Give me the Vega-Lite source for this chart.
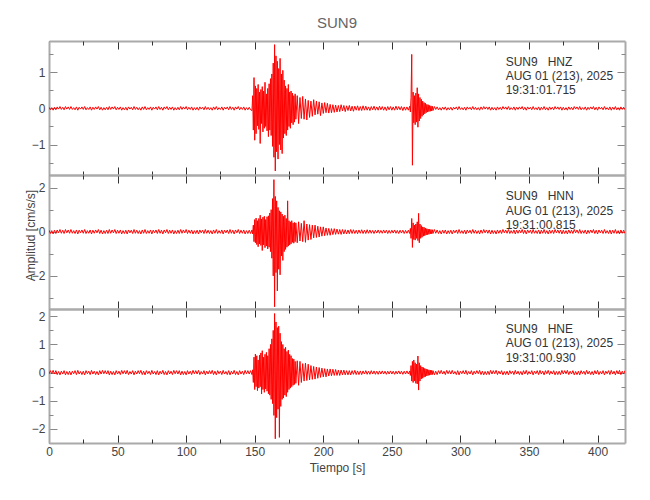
{
"$schema": "https://vega.github.io/schema/vega-lite/v6.json",
"background": "white",
"padding": {"left": 23, "top": 15, "right": 5, "bottom": 5},
"bounds": "flush",
"title": {"text": "SUN9", "font": "Liberation Sans", "fontSize": 15, "fontWeight": "normal", "color": "#666666", "anchor": "middle", "frame": "group", "baseline": "alphabetic", "offset": -2},
"config": {"view": {"stroke": null}, "axis": {"labelFont": "Liberation Sans", "labelFontSize": 12, "labelColor": "#444444", "titleFont": "Liberation Sans", "titleFontSize": 12, "titleColor": "#444444", "titleFontWeight": "normal", "labelFlush": false, "labelOverlap": false, "grid": false}},
"spacing": 0,
"vconcat": [
{
"width": 576, "height": 134,
"layer": [
{"data": {"name": "z"}, "mark": {"type": "line", "color": "#ff0000", "strokeWidth": 1, "clip": true},
 "encoding": {
  "x": {"field": "t", "type": "quantitative", "scale": {"domain": [0, 420], "nice": false, "zero": false}, "axis": {"orient": "bottom", "values": [0,50,100,150,200,250,300,350,400], "tickSize": -8, "labels": false, "title": null, "domainColor": "#aaaaaa", "domainWidth": 2, "tickColor": "#333333"}},
  "y": {"field": "v", "type": "quantitative", "scale": {"domain": [-1.84, 1.86], "nice": false, "zero": false}, "axis": {"orient": "left", "values": [-1,0,1], "tickSize": -8, "labelPadding": 12, "title": null, "domainColor": "#aaaaaa", "domainWidth": 2, "tickColor": "#888888"}}}},
{"data": {"values": [{"t": 0, "v": 0}]}, "mark": {"type": "point", "opacity": 0},
 "encoding": {
  "x": {"field": "t", "type": "quantitative", "axis": {"orient": "bottom", "values": [25,75,125,175,225,275,325,375], "tickSize": -4, "labels": false, "domain": false, "title": null, "tickColor": "#333333"}},
  "y": {"field": "v", "type": "quantitative", "axis": {"orient": "left", "values": [-1.5,-0.5,0.5,1.5], "tickSize": -4, "labels": false, "domain": false, "title": null, "tickColor": "#888888"}}}},
{"data": {"values": [{"t": 0, "v": 0}]}, "mark": {"type": "point", "opacity": 0},
 "encoding": {
  "x": {"field": "t", "type": "quantitative", "axis": {"orient": "top", "values": [0,50,100,150,200,250,300,350,400], "tickSize": -8, "labels": false, "title": null, "domainColor": "#aaaaaa", "domainWidth": 2, "tickColor": "#333333"}},
  "y": {"field": "v", "type": "quantitative", "axis": {"orient": "right", "values": [-1,0,1], "tickSize": -8, "labels": false, "title": null, "domainColor": "#aaaaaa", "domainWidth": 2, "tickColor": "#888888"}}}},
{"data": {"values": [{"t": 0, "v": 0}]}, "mark": {"type": "point", "opacity": 0},
 "encoding": {
  "x": {"field": "t", "type": "quantitative", "axis": {"orient": "top", "values": [25,75,125,175,225,275,325,375], "tickSize": -4, "labels": false, "domain": false, "title": null, "tickColor": "#333333"}},
  "y": {"field": "v", "type": "quantitative", "axis": {"orient": "right", "values": [-1.5,-0.5,0.5,1.5], "tickSize": -4, "labels": false, "domain": false, "title": null, "tickColor": "#888888"}}}},
{"data": {"values": [{}]}, "mark": {"type": "text", "text": ["SUN9\u00a0\u00a0\u00a0HNZ", "AUG 01 (213), 2025", "19:31:01.715"], "align": "left", "baseline": "top", "font": "Liberation Sans", "fontSize": 12, "lineHeight": 14.3, "color": "#333333"},
 "encoding": {"x": {"datum": 333, "type": "quantitative", "axis": null}, "y": {"datum": 1.43, "type": "quantitative", "axis": null}}}
],
"resolve": {"axis": {"x": "independent", "y": "independent"}}
},
{
"width": 576, "height": 134,
"layer": [
{"data": {"name": "n"}, "mark": {"type": "line", "color": "#ff0000", "strokeWidth": 1, "clip": true},
 "encoding": {
  "x": {"field": "t", "type": "quantitative", "scale": {"domain": [0, 420], "nice": false, "zero": false}, "axis": {"orient": "bottom", "values": [0,50,100,150,200,250,300,350,400], "tickSize": -8, "labels": false, "title": null, "domainColor": "#aaaaaa", "domainWidth": 2, "tickColor": "#333333"}},
  "y": {"field": "v", "type": "quantitative", "scale": {"domain": [-3.5, 2.57], "nice": false, "zero": false}, "axis": {"orient": "left", "values": [-2,0,2], "tickSize": -8, "labelPadding": 12, "title": "Amplitud [cm/s/s]", "titleX": -19, "titleY": 60, "titleAngle": 270, "titleBaseline": "middle", "titleAlign": "center", "domainColor": "#aaaaaa", "domainWidth": 2, "tickColor": "#888888"}}}},
{"data": {"values": [{"t": 0, "v": 0}]}, "mark": {"type": "point", "opacity": 0},
 "encoding": {
  "x": {"field": "t", "type": "quantitative", "axis": {"orient": "bottom", "values": [25,75,125,175,225,275,325,375], "tickSize": -4, "labels": false, "domain": false, "title": null, "tickColor": "#333333"}},
  "y": {"field": "v", "type": "quantitative", "axis": {"orient": "left", "values": [-3,-1,1], "tickSize": -4, "labels": false, "domain": false, "title": null, "tickColor": "#888888"}}}},
{"data": {"values": [{"t": 0, "v": 0}]}, "mark": {"type": "point", "opacity": 0},
 "encoding": {
  "x": {"field": "t", "type": "quantitative", "axis": {"orient": "top", "values": [0,50,100,150,200,250,300,350,400], "tickSize": -8, "labels": false, "title": null, "domainColor": "#aaaaaa", "domainWidth": 2, "tickColor": "#333333"}},
  "y": {"field": "v", "type": "quantitative", "axis": {"orient": "right", "values": [-2,0,2], "tickSize": -8, "labels": false, "title": null, "domainColor": "#aaaaaa", "domainWidth": 2, "tickColor": "#888888"}}}},
{"data": {"values": [{"t": 0, "v": 0}]}, "mark": {"type": "point", "opacity": 0},
 "encoding": {
  "x": {"field": "t", "type": "quantitative", "axis": {"orient": "top", "values": [25,75,125,175,225,275,325,375], "tickSize": -4, "labels": false, "domain": false, "title": null, "tickColor": "#333333"}},
  "y": {"field": "v", "type": "quantitative", "axis": {"orient": "right", "values": [-3,-1,1], "tickSize": -4, "labels": false, "domain": false, "title": null, "tickColor": "#888888"}}}},
{"data": {"values": [{}]}, "mark": {"type": "text", "text": ["SUN9\u00a0\u00a0\u00a0HNN", "AUG 01 (213), 2025", "19:31:00.815"], "align": "left", "baseline": "top", "font": "Liberation Sans", "fontSize": 12, "lineHeight": 14.3, "color": "#333333"},
 "encoding": {"x": {"datum": 333, "type": "quantitative", "axis": null}, "y": {"datum": 1.83, "type": "quantitative", "axis": null}}}
],
"resolve": {"axis": {"x": "independent", "y": "independent"}}
},
{
"width": 576, "height": 134,
"layer": [
{"data": {"name": "e"}, "mark": {"type": "line", "color": "#ff0000", "strokeWidth": 1, "clip": true},
 "encoding": {
  "x": {"field": "t", "type": "quantitative", "scale": {"domain": [0, 420], "nice": false, "zero": false}, "axis": {"orient": "bottom", "values": [0,50,100,150,200,250,300,350,400], "tickSize": -8, "labels": true, "labelPadding": 11, "labelBaseline": "top", "title": "Tiempo [s]", "titlePadding": 5, "domainColor": "#aaaaaa", "domainWidth": 2, "tickColor": "#333333"}},
  "y": {"field": "v", "type": "quantitative", "scale": {"domain": [-2.5, 2.26], "nice": false, "zero": false}, "axis": {"orient": "left", "values": [-2,-1,0,1,2], "tickSize": -8, "labelPadding": 12, "title": null, "domainColor": "#aaaaaa", "domainWidth": 2, "tickColor": "#888888"}}}},
{"data": {"values": [{"t": 0, "v": 0}]}, "mark": {"type": "point", "opacity": 0},
 "encoding": {
  "x": {"field": "t", "type": "quantitative", "axis": {"orient": "bottom", "values": [25,75,125,175,225,275,325,375], "tickSize": -4, "labels": false, "domain": false, "title": null, "tickColor": "#333333"}},
  "y": {"field": "v", "type": "quantitative", "axis": {"orient": "left", "values": [-1.5,-0.5,0.5,1.5], "tickSize": -4, "labels": false, "domain": false, "title": null, "tickColor": "#888888"}}}},
{"data": {"values": [{"t": 0, "v": 0}]}, "mark": {"type": "point", "opacity": 0},
 "encoding": {
  "x": {"field": "t", "type": "quantitative", "axis": {"orient": "top", "values": [0,50,100,150,200,250,300,350,400], "tickSize": -8, "labels": false, "title": null, "domainColor": "#aaaaaa", "domainWidth": 2, "tickColor": "#333333"}},
  "y": {"field": "v", "type": "quantitative", "axis": {"orient": "right", "values": [-2,-1,0,1,2], "tickSize": -8, "labels": false, "title": null, "domainColor": "#aaaaaa", "domainWidth": 2, "tickColor": "#888888"}}}},
{"data": {"values": [{"t": 0, "v": 0}]}, "mark": {"type": "point", "opacity": 0},
 "encoding": {
  "x": {"field": "t", "type": "quantitative", "axis": {"orient": "top", "values": [25,75,125,175,225,275,325,375], "tickSize": -4, "labels": false, "domain": false, "title": null, "tickColor": "#333333"}},
  "y": {"field": "v", "type": "quantitative", "axis": {"orient": "right", "values": [-1.5,-0.5,0.5,1.5], "tickSize": -4, "labels": false, "domain": false, "title": null, "tickColor": "#888888"}}}},
{"data": {"values": [{}]}, "mark": {"type": "text", "text": ["SUN9\u00a0\u00a0\u00a0HNE", "AUG 01 (213), 2025", "19:31:00.930"], "align": "left", "baseline": "top", "font": "Liberation Sans", "fontSize": 12, "lineHeight": 14.3, "color": "#333333"},
 "encoding": {"x": {"datum": 333, "type": "quantitative", "axis": null}, "y": {"datum": 1.72, "type": "quantitative", "axis": null}}}
],
"resolve": {"axis": {"x": "independent", "y": "independent"}}
}
],
"datasets": {
"z": [
{"t":0,"v":0.03},{"t":1,"v":-0.04},{"t":2,"v":0.02},{"t":3,"v":-0.05},{"t":4,"v":0.03},{"t":5,"v":-0.04},{"t":6,"v":0.04},{"t":7,"v":-0.02},{"t":8,"v":0.05},{"t":9,"v":-0.03},{"t":10,"v":0.03},{"t":11,"v":-0.04},{"t":12,"v":0.05},{"t":13,"v":-0.02},{"t":14,"v":0.04},{"t":15,"v":-0.03},{"t":16,"v":0.05},{"t":17,"v":-0.03},{"t":18,"v":0.02},{"t":19,"v":-0.04},{"t":20,"v":0.04},{"t":21,"v":-0.05},{"t":22,"v":0.03},{"t":23,"v":-0.02},{"t":24,"v":0.04},{"t":25,"v":-0.03},{"t":26,"v":0.05},{"t":27,"v":-0.04},{"t":28,"v":0.02},{"t":29,"v":-0.03},{"t":30,"v":0.04},{"t":31,"v":-0.05},{"t":32,"v":0.03},{"t":33,"v":-0.03},{"t":34,"v":0.04},{"t":35,"v":-0.02},{"t":36,"v":0.05},{"t":37,"v":-0.04},{"t":38,"v":0.03},{"t":39,"v":-0.05},{"t":40,"v":0.02},{"t":41,"v":-0.04},{"t":42,"v":0.03},{"t":43,"v":-0.04},{"t":44,"v":0.05},{"t":45,"v":-0.03},{"t":46,"v":0.04},{"t":47,"v":-0.02},{"t":48,"v":0.05},{"t":49,"v":-0.04},{"t":50,"v":0.03},{"t":51,"v":-0.03},{"t":52,"v":0.04},{"t":53,"v":-0.05},{"t":54,"v":0.02},{"t":55,"v":-0.04},{"t":56,"v":0.03},{"t":57,"v":-0.05},{"t":58,"v":0.04},{"t":59,"v":-0.02},{"t":60,"v":0.03},{"t":61,"v":-0.04},{"t":62,"v":0.05},{"t":63,"v":-0.03},{"t":64,"v":0.03},{"t":65,"v":-0.04},{"t":66,"v":0.02},{"t":67,"v":-0.05},{"t":68,"v":0.04},{"t":69,"v":-0.03},{"t":70,"v":0.05},{"t":71,"v":-0.04},{"t":72,"v":0.02},{"t":73,"v":-0.03},{"t":74,"v":0.04},{"t":75,"v":-0.05},{"t":76,"v":0.03},{"t":77,"v":-0.02},{"t":78,"v":0.04},{"t":79,"v":-0.04},{"t":80,"v":0.05},{"t":81,"v":-0.03},{"t":82,"v":0.03},{"t":83,"v":-0.05},{"t":84,"v":0.04},{"t":85,"v":-0.02},{"t":86,"v":0.05},{"t":87,"v":-0.04},{"t":88,"v":0.03},{"t":89,"v":-0.03},{"t":90,"v":0.04},{"t":91,"v":-0.05},{"t":92,"v":0.02},{"t":93,"v":-0.04},{"t":94,"v":0.03},{"t":95,"v":-0.04},{"t":96,"v":0.05},{"t":97,"v":-0.03},{"t":98,"v":0.04},{"t":99,"v":-0.02},{"t":100,"v":0.05},{"t":101,"v":-0.04},{"t":102,"v":0.03},{"t":103,"v":-0.03},{"t":104,"v":0.04},{"t":105,"v":-0.05},{"t":106,"v":0.02},{"t":107,"v":-0.04},{"t":108,"v":0.03},{"t":109,"v":-0.05},{"t":110,"v":0.04},{"t":111,"v":-0.02},{"t":112,"v":0.03},{"t":113,"v":-0.04},{"t":114,"v":0.05},{"t":115,"v":-0.03},{"t":116,"v":0.03},{"t":117,"v":-0.04},{"t":118,"v":0.02},{"t":119,"v":-0.05},{"t":120,"v":0.04},{"t":121,"v":-0.03},{"t":122,"v":0.05},{"t":123,"v":-0.04},{"t":124,"v":0.02},{"t":125,"v":-0.03},{"t":126,"v":0.04},{"t":127,"v":-0.05},{"t":128,"v":0.03},{"t":129,"v":-0.02},{"t":130,"v":0.04},{"t":131,"v":-0.04},{"t":132,"v":0.05},{"t":133,"v":-0.03},{"t":134,"v":0.03},{"t":135,"v":-0.05},{"t":136,"v":0.04},{"t":137,"v":-0.02},{"t":138,"v":0.05},{"t":139,"v":-0.04},{"t":140,"v":0.03},{"t":141,"v":-0.03},{"t":142,"v":0.04},{"t":143,"v":-0.05},{"t":144,"v":0.02},{"t":145,"v":-0.04},{"t":146,"v":0.03},{"t":147,"v":-0.04},
{"t":148,"v":-0.06},{"t":148.5,"v":0.35},{"t":149,"v":-0.6},{"t":149.5,"v":0.85},{"t":150,"v":-0.88},{"t":150.5,"v":0.62},{"t":151,"v":-0.7},{"t":151.5,"v":0.55},{"t":152,"v":-0.48},{"t":152.5,"v":0.66},{"t":153,"v":-0.58},{"t":153.5,"v":0.45},{"t":154,"v":-0.97},{"t":154.5,"v":0.52},{"t":155,"v":-0.42},{"t":155.5,"v":0.6},{"t":156,"v":-0.65},{"t":156.5,"v":0.48},{"t":157,"v":-0.55},{"t":157.5,"v":0.72},{"t":158,"v":-0.5},{"t":158.5,"v":0.4},{"t":159,"v":-0.62},{"t":159.5,"v":0.55},{"t":160,"v":-0.78},{"t":160.5,"v":0.68},{"t":161,"v":-0.6},{"t":161.5,"v":0.82},{"t":162,"v":-0.75},{"t":162.5,"v":0.95},{"t":163,"v":-1.05},{"t":163.5,"v":1.25},{"t":164,"v":-1.35},{"t":164.5,"v":1.76},{"t":165,"v":-1.73},{"t":165.5,"v":1.45},{"t":166,"v":-1.2},{"t":166.5,"v":1.3},{"t":167,"v":-1.4},{"t":167.5,"v":1.1},{"t":168,"v":-1.0},{"t":168.5,"v":1.38},{"t":169,"v":-1.15},{"t":169.5,"v":0.95},{"t":170,"v":-1.25},{"t":170.5,"v":1.05},{"t":171,"v":-0.82},{"t":171.5,"v":0.78},{"t":172,"v":-0.7},{"t":172.5,"v":0.62},{"t":173,"v":-0.75},{"t":173.5,"v":0.55},{"t":174,"v":-0.6},{"t":174.5,"v":0.66},{"t":175,"v":-0.5},{"t":175.5,"v":0.45},{"t":176,"v":-0.55},{"t":176.5,"v":0.48},{"t":177,"v":-0.4},{"t":177.5,"v":0.42},{"t":178,"v":-0.45},{"t":178.5,"v":0.35},{"t":179,"v":-0.38},{"t":179.5,"v":0.4},{"t":180,"v":-0.3},
{"t":181,"v":0.35},{"t":182,"v":-0.42},{"t":183,"v":0.3},{"t":184,"v":-0.28},{"t":185,"v":0.33},{"t":186,"v":-0.3},{"t":187,"v":0.26},{"t":188,"v":-0.32},{"t":189,"v":0.22},{"t":190,"v":-0.25},{"t":191,"v":0.2},{"t":192,"v":-0.22},{"t":193,"v":0.24},{"t":194,"v":-0.18},{"t":195,"v":0.2},{"t":196,"v":-0.16},{"t":197,"v":0.18},{"t":198,"v":-0.2},{"t":199,"v":0.15},{"t":200,"v":-0.14},{"t":201,"v":0.16},{"t":202,"v":-0.12},{"t":203,"v":0.14},{"t":204,"v":-0.13},{"t":205,"v":0.11},{"t":206,"v":-0.12},{"t":207,"v":0.1},{"t":208,"v":-0.11},{"t":209,"v":0.09},{"t":210,"v":-0.1},{"t":211,"v":0.08},{"t":212,"v":-0.09},{"t":213,"v":0.1},{"t":214,"v":-0.07},{"t":215,"v":0.08},{"t":216,"v":-0.09},{"t":217,"v":0.07},{"t":218,"v":-0.06},{"t":219,"v":0.08},{"t":220,"v":-0.07},{"t":221,"v":0.06},{"t":222,"v":-0.08},{"t":223,"v":0.06},{"t":224,"v":-0.05},{"t":225,"v":0.07},{"t":226,"v":-0.06},{"t":227,"v":0.05},{"t":228,"v":-0.06},{"t":229,"v":0.07},{"t":230,"v":-0.05},{"t":231,"v":0.06},{"t":232,"v":-0.05},{"t":233,"v":0.04},{"t":234,"v":-0.06},{"t":235,"v":0.05},{"t":236,"v":-0.04},{"t":237,"v":0.06},{"t":238,"v":-0.05},{"t":239,"v":0.04},{"t":240,"v":-0.05},{"t":241,"v":0.06},{"t":242,"v":-0.04},{"t":243,"v":0.05},{"t":244,"v":-0.05},{"t":245,"v":0.04},{"t":246,"v":-0.06},{"t":247,"v":0.05},{"t":248,"v":-0.04},{"t":249,"v":0.05},{"t":250,"v":-0.05},{"t":251,"v":0.04},{"t":252,"v":-0.05},{"t":253,"v":0.06},{"t":254,"v":-0.04},{"t":255,"v":0.05},{"t":256,"v":-0.04},{"t":257,"v":0.05},{"t":258,"v":-0.06},{"t":259,"v":0.04},{"t":260,"v":-0.05},{"t":261,"v":0.04},{"t":262,"v":-0.05},
{"t":263,"v":0.06},{"t":263.5,"v":-0.1},{"t":264,"v":0.3},{"t":264.5,"v":1.49},{"t":265,"v":-1.57},{"t":265.5,"v":0.45},{"t":266,"v":-0.4},{"t":266.5,"v":0.35},{"t":267,"v":-0.45},{"t":267.5,"v":0.42},{"t":268,"v":-0.38},{"t":268.5,"v":0.57},{"t":269,"v":-0.52},{"t":269.5,"v":0.4},{"t":270,"v":-0.35},{"t":270.5,"v":0.3},{"t":271,"v":-0.28},{"t":271.5,"v":0.25},{"t":272,"v":-0.22},{"t":272.5,"v":0.2},{"t":273,"v":-0.18},{"t":273.5,"v":0.16},{"t":274,"v":-0.15},{"t":274.5,"v":0.14},{"t":275,"v":-0.12},{"t":275.5,"v":0.11},{"t":276,"v":-0.1},{"t":276.5,"v":0.1},{"t":277,"v":-0.09},{"t":277.5,"v":0.08},{"t":278,"v":-0.08},{"t":278.5,"v":0.07},{"t":279,"v":-0.07},{"t":279.5,"v":0.06},{"t":280,"v":-0.06},
{"t":281,"v":0.05},{"t":282,"v":-0.03},{"t":283,"v":0.04},{"t":284,"v":-0.04},{"t":285,"v":0.02},{"t":286,"v":-0.05},{"t":287,"v":0.03},{"t":288,"v":-0.03},{"t":289,"v":0.04},{"t":290,"v":-0.05},{"t":291,"v":0.02},{"t":292,"v":-0.04},{"t":293,"v":0.03},{"t":294,"v":-0.05},{"t":295,"v":0.03},{"t":296,"v":-0.02},{"t":297,"v":0.04},{"t":298,"v":-0.04},{"t":299,"v":0.05},{"t":300,"v":-0.03},{"t":301,"v":0.02},{"t":302,"v":-0.04},{"t":303,"v":0.03},{"t":304,"v":-0.05},{"t":305,"v":0.04},{"t":306,"v":-0.02},{"t":307,"v":0.03},{"t":308,"v":-0.04},{"t":309,"v":0.05},{"t":310,"v":-0.03},{"t":311,"v":0.03},{"t":312,"v":-0.04},{"t":313,"v":0.02},{"t":314,"v":-0.05},{"t":315,"v":0.04},{"t":316,"v":-0.03},{"t":317,"v":0.05},{"t":318,"v":-0.02},{"t":319,"v":0.04},{"t":320,"v":-0.03},{"t":321,"v":0.04},{"t":322,"v":-0.05},{"t":323,"v":0.03},{"t":324,"v":-0.04},{"t":325,"v":0.02},{"t":326,"v":-0.05},{"t":327,"v":0.04},{"t":328,"v":-0.03},{"t":329,"v":0.03},{"t":330,"v":-0.04},{"t":331,"v":0.05},{"t":332,"v":-0.02},{"t":333,"v":0.04},{"t":334,"v":-0.03},{"t":335,"v":0.05},{"t":336,"v":-0.04},{"t":337,"v":0.02},{"t":338,"v":-0.03},{"t":339,"v":0.04},{"t":340,"v":-0.05},{"t":341,"v":0.03},{"t":342,"v":-0.03},{"t":343,"v":0.04},{"t":344,"v":-0.02},{"t":345,"v":0.05},{"t":346,"v":-0.04},{"t":347,"v":0.03},{"t":348,"v":-0.05},{"t":349,"v":0.04},{"t":350,"v":-0.02},{"t":351,"v":0.03},{"t":352,"v":-0.04},{"t":353,"v":0.05},{"t":354,"v":-0.03},{"t":355,"v":0.02},{"t":356,"v":-0.04},{"t":357,"v":0.04},{"t":358,"v":-0.05},{"t":359,"v":0.03},{"t":360,"v":-0.03},{"t":361,"v":0.05},{"t":362,"v":-0.04},{"t":363,"v":0.02},{"t":364,"v":-0.05},{"t":365,"v":0.04},{"t":366,"v":-0.03},{"t":367,"v":0.03},{"t":368,"v":-0.04},{"t":369,"v":0.05},{"t":370,"v":-0.02},{"t":371,"v":0.04},{"t":372,"v":-0.03},{"t":373,"v":0.04},{"t":374,"v":-0.05},{"t":375,"v":0.03},{"t":376,"v":-0.04},{"t":377,"v":0.02},{"t":378,"v":-0.05},{"t":379,"v":0.04},{"t":380,"v":-0.03},{"t":381,"v":0.03},{"t":382,"v":-0.04},{"t":383,"v":0.05},{"t":384,"v":-0.02},{"t":385,"v":0.04},{"t":386,"v":-0.03},{"t":387,"v":0.05},{"t":388,"v":-0.04},{"t":389,"v":0.02},{"t":390,"v":-0.03},{"t":391,"v":0.04},{"t":392,"v":-0.05},{"t":393,"v":0.03},{"t":394,"v":-0.03},{"t":395,"v":0.04},{"t":396,"v":-0.02},{"t":397,"v":0.05},{"t":398,"v":-0.04},{"t":399,"v":0.03},{"t":400,"v":-0.05},{"t":401,"v":0.04},{"t":402,"v":-0.02},{"t":403,"v":0.03},{"t":404,"v":-0.04},{"t":405,"v":0.05},{"t":406,"v":-0.03},{"t":407,"v":0.02},{"t":408,"v":-0.04},{"t":409,"v":0.04},{"t":410,"v":-0.05},{"t":411,"v":0.03},{"t":412,"v":-0.03},{"t":413,"v":0.05},{"t":414,"v":-0.04},{"t":415,"v":0.02},{"t":416,"v":-0.05},{"t":417,"v":0.04},{"t":418,"v":-0.03},{"t":419,"v":0.03},{"t":420,"v":-0.04}
],
"n": [
{"t":0,"v":0.07},{"t":1,"v":-0.08},{"t":2,"v":0.05},{"t":3,"v":-0.1},{"t":4,"v":0.07},{"t":5,"v":-0.08},{"t":6,"v":0.08},{"t":7,"v":-0.05},{"t":8,"v":0.1},{"t":9,"v":-0.07},{"t":10,"v":0.07},{"t":11,"v":-0.08},{"t":12,"v":0.1},{"t":13,"v":-0.05},{"t":14,"v":0.08},{"t":15,"v":-0.07},{"t":16,"v":0.1},{"t":17,"v":-0.07},{"t":18,"v":0.05},{"t":19,"v":-0.08},{"t":20,"v":0.08},{"t":21,"v":-0.1},{"t":22,"v":0.07},{"t":23,"v":-0.05},{"t":24,"v":0.08},{"t":25,"v":-0.07},{"t":26,"v":0.1},{"t":27,"v":-0.08},{"t":28,"v":0.05},{"t":29,"v":-0.07},{"t":30,"v":0.08},{"t":31,"v":-0.1},{"t":32,"v":0.07},{"t":33,"v":-0.07},{"t":34,"v":0.08},{"t":35,"v":-0.05},{"t":36,"v":0.1},{"t":37,"v":-0.08},{"t":38,"v":0.07},{"t":39,"v":-0.1},{"t":40,"v":0.05},{"t":41,"v":-0.08},{"t":42,"v":0.07},{"t":43,"v":-0.08},{"t":44,"v":0.1},{"t":45,"v":-0.07},{"t":46,"v":0.08},{"t":47,"v":-0.05},{"t":48,"v":0.1},{"t":49,"v":-0.08},{"t":50,"v":0.07},{"t":51,"v":-0.07},{"t":52,"v":0.08},{"t":53,"v":-0.1},{"t":54,"v":0.05},{"t":55,"v":-0.08},{"t":56,"v":0.07},{"t":57,"v":-0.1},{"t":58,"v":0.08},{"t":59,"v":-0.05},{"t":60,"v":0.07},{"t":61,"v":-0.08},{"t":62,"v":0.1},{"t":63,"v":-0.07},{"t":64,"v":0.07},{"t":65,"v":-0.08},{"t":66,"v":0.05},{"t":67,"v":-0.1},{"t":68,"v":0.08},{"t":69,"v":-0.07},{"t":70,"v":0.1},{"t":71,"v":-0.08},{"t":72,"v":0.05},{"t":73,"v":-0.07},{"t":74,"v":0.08},{"t":75,"v":-0.1},{"t":76,"v":0.07},{"t":77,"v":-0.05},{"t":78,"v":0.08},{"t":79,"v":-0.08},{"t":80,"v":0.1},{"t":81,"v":-0.07},{"t":82,"v":0.07},{"t":83,"v":-0.1},{"t":84,"v":0.08},{"t":85,"v":-0.05},{"t":86,"v":0.1},{"t":87,"v":-0.08},{"t":88,"v":0.07},{"t":89,"v":-0.07},{"t":90,"v":0.08},{"t":91,"v":-0.1},{"t":92,"v":0.05},{"t":93,"v":-0.08},{"t":94,"v":0.07},{"t":95,"v":-0.08},{"t":96,"v":0.1},{"t":97,"v":-0.07},{"t":98,"v":0.08},{"t":99,"v":-0.05},{"t":100,"v":0.1},{"t":101,"v":-0.08},{"t":102,"v":0.07},{"t":103,"v":-0.07},{"t":104,"v":0.08},{"t":105,"v":-0.1},{"t":106,"v":0.05},{"t":107,"v":-0.08},{"t":108,"v":0.07},{"t":109,"v":-0.1},{"t":110,"v":0.08},{"t":111,"v":-0.05},{"t":112,"v":0.07},{"t":113,"v":-0.08},{"t":114,"v":0.1},{"t":115,"v":-0.07},{"t":116,"v":0.07},{"t":117,"v":-0.08},{"t":118,"v":0.05},{"t":119,"v":-0.1},{"t":120,"v":0.08},{"t":121,"v":-0.07},{"t":122,"v":0.1},{"t":123,"v":-0.08},{"t":124,"v":0.05},{"t":125,"v":-0.07},{"t":126,"v":0.08},{"t":127,"v":-0.1},{"t":128,"v":0.07},{"t":129,"v":-0.05},{"t":130,"v":0.08},{"t":131,"v":-0.08},{"t":132,"v":0.1},{"t":133,"v":-0.07},{"t":134,"v":0.07},{"t":135,"v":-0.1},{"t":136,"v":0.08},{"t":137,"v":-0.05},{"t":138,"v":0.1},{"t":139,"v":-0.08},{"t":140,"v":0.07},{"t":141,"v":-0.07},{"t":142,"v":0.08},{"t":143,"v":-0.1},{"t":144,"v":0.05},{"t":145,"v":-0.08},{"t":146,"v":0.07},{"t":147,"v":-0.08},
{"t":148,"v":0.08},{"t":148.5,"v":-0.1},{"t":149,"v":0.3},{"t":149.5,"v":-0.45},{"t":150,"v":0.55},{"t":150.5,"v":-0.5},{"t":151,"v":0.62},{"t":151.5,"v":-0.58},{"t":152,"v":0.5},{"t":152.5,"v":-0.68},{"t":153,"v":0.6},{"t":153.5,"v":-0.55},{"t":154,"v":0.75},{"t":154.5,"v":-0.62},{"t":155,"v":0.58},{"t":155.5,"v":-0.85},{"t":156,"v":0.66},{"t":156.5,"v":-0.6},{"t":157,"v":0.7},{"t":157.5,"v":-0.72},{"t":158,"v":0.55},{"t":158.5,"v":-0.65},{"t":159,"v":0.68},{"t":159.5,"v":-0.78},{"t":160,"v":0.72},{"t":160.5,"v":-0.7},{"t":161,"v":0.85},{"t":161.5,"v":-0.9},{"t":162,"v":1.0},{"t":162.5,"v":-1.2},{"t":163,"v":1.5},{"t":163.5,"v":-2.0},{"t":164,"v":2.36},{"t":164.5,"v":-3.4},{"t":165,"v":1.6},{"t":165.5,"v":-1.85},{"t":166,"v":1.4},{"t":166.5,"v":-2.68},{"t":167,"v":1.1},{"t":167.5,"v":-1.7},{"t":168,"v":0.95},{"t":168.5,"v":-1.95},{"t":169,"v":0.9},{"t":169.5,"v":-1.1},{"t":170,"v":0.8},{"t":170.5,"v":-1.3},{"t":171,"v":0.7},{"t":171.5,"v":-0.9},{"t":172,"v":0.75},{"t":172.5,"v":-0.8},{"t":173,"v":0.6},{"t":173.5,"v":-0.7},{"t":174,"v":1.4},{"t":174.5,"v":-0.65},{"t":175,"v":0.5},{"t":175.5,"v":-0.6},{"t":176,"v":0.45},{"t":176.5,"v":-0.55},{"t":177,"v":0.5},{"t":177.5,"v":-0.48},{"t":178,"v":0.4},{"t":178.5,"v":-0.52},{"t":179,"v":0.42},{"t":179.5,"v":-0.45},{"t":180,"v":0.4},
{"t":181,"v":-0.5},{"t":182,"v":0.45},{"t":183,"v":-0.42},{"t":184,"v":0.38},{"t":185,"v":-0.45},{"t":186,"v":0.5},{"t":187,"v":-0.48},{"t":188,"v":0.35},{"t":189,"v":-0.38},{"t":190,"v":0.32},{"t":191,"v":-0.35},{"t":192,"v":0.3},{"t":193,"v":-0.28},{"t":194,"v":0.3},{"t":195,"v":-0.26},{"t":196,"v":0.25},{"t":197,"v":-0.24},{"t":198,"v":0.22},{"t":199,"v":-0.2},{"t":200,"v":0.22},{"t":201,"v":-0.18},{"t":202,"v":0.17},{"t":203,"v":-0.16},{"t":204,"v":0.15},{"t":205,"v":-0.16},{"t":206,"v":0.14},{"t":207,"v":-0.13},{"t":208,"v":0.14},{"t":209,"v":-0.12},{"t":210,"v":0.12},{"t":211,"v":-0.11},{"t":212,"v":0.1},{"t":213,"v":-0.12},{"t":214,"v":0.1},{"t":215,"v":-0.1},{"t":216,"v":0.09},{"t":217,"v":-0.1},{"t":218,"v":0.08},{"t":219,"v":-0.09},{"t":220,"v":0.1},{"t":221,"v":-0.08},{"t":222,"v":0.09},{"t":223,"v":-0.08},{"t":224,"v":0.07},{"t":225,"v":-0.09},{"t":226,"v":0.08},{"t":227,"v":-0.07},{"t":228,"v":0.09},{"t":229,"v":-0.08},{"t":230,"v":0.07},{"t":231,"v":-0.08},{"t":232,"v":0.09},{"t":233,"v":-0.07},{"t":234,"v":0.08},{"t":235,"v":-0.07},{"t":236,"v":0.06},{"t":237,"v":-0.08},{"t":238,"v":0.07},{"t":239,"v":-0.06},{"t":240,"v":0.08},{"t":241,"v":-0.07},{"t":242,"v":0.06},{"t":243,"v":-0.07},{"t":244,"v":0.08},{"t":245,"v":-0.06},{"t":246,"v":0.07},{"t":247,"v":-0.08},{"t":248,"v":0.06},{"t":249,"v":-0.07},{"t":250,"v":0.07},{"t":251,"v":-0.06},{"t":252,"v":0.08},{"t":253,"v":-0.07},{"t":254,"v":0.06},{"t":255,"v":-0.08},{"t":256,"v":0.07},{"t":257,"v":-0.06},{"t":258,"v":0.07},{"t":259,"v":-0.08},{"t":260,"v":0.06},{"t":261,"v":-0.07},{"t":262,"v":0.07},
{"t":263,"v":-0.08},{"t":263.5,"v":0.15},{"t":264,"v":-0.3},{"t":264.5,"v":0.6},{"t":265,"v":-0.71},{"t":265.5,"v":0.4},{"t":266,"v":-0.35},{"t":266.5,"v":0.3},{"t":267,"v":-0.38},{"t":267.5,"v":0.35},{"t":268,"v":-0.3},{"t":268.5,"v":0.45},{"t":269,"v":-0.4},{"t":269.5,"v":0.83},{"t":270,"v":-0.5},{"t":270.5,"v":0.35},{"t":271,"v":-0.3},{"t":271.5,"v":0.28},{"t":272,"v":-0.25},{"t":272.5,"v":0.22},{"t":273,"v":-0.2},{"t":273.5,"v":0.2},{"t":274,"v":-0.18},{"t":274.5,"v":0.16},{"t":275,"v":-0.15},{"t":275.5,"v":0.14},{"t":276,"v":-0.13},{"t":276.5,"v":0.12},{"t":277,"v":-0.12},{"t":277.5,"v":0.11},{"t":278,"v":-0.1},{"t":278.5,"v":0.1},{"t":279,"v":-0.09},{"t":279.5,"v":0.09},{"t":280,"v":-0.08},
{"t":281,"v":0.1},{"t":282,"v":-0.07},{"t":283,"v":0.08},{"t":284,"v":-0.08},{"t":285,"v":0.05},{"t":286,"v":-0.1},{"t":287,"v":0.07},{"t":288,"v":-0.07},{"t":289,"v":0.08},{"t":290,"v":-0.1},{"t":291,"v":0.05},{"t":292,"v":-0.08},{"t":293,"v":0.07},{"t":294,"v":-0.1},{"t":295,"v":0.07},{"t":296,"v":-0.05},{"t":297,"v":0.08},{"t":298,"v":-0.08},{"t":299,"v":0.1},{"t":300,"v":-0.07},{"t":301,"v":0.05},{"t":302,"v":-0.08},{"t":303,"v":0.07},{"t":304,"v":-0.1},{"t":305,"v":0.08},{"t":306,"v":-0.05},{"t":307,"v":0.07},{"t":308,"v":-0.08},{"t":309,"v":0.1},{"t":310,"v":-0.07},{"t":311,"v":0.07},{"t":312,"v":-0.08},{"t":313,"v":0.05},{"t":314,"v":-0.1},{"t":315,"v":0.08},{"t":316,"v":-0.07},{"t":317,"v":0.1},{"t":318,"v":-0.05},{"t":319,"v":0.08},{"t":320,"v":-0.07},{"t":321,"v":0.08},{"t":322,"v":-0.1},{"t":323,"v":0.07},{"t":324,"v":-0.08},{"t":325,"v":0.05},{"t":326,"v":-0.1},{"t":327,"v":0.08},{"t":328,"v":-0.07},{"t":329,"v":0.07},{"t":330,"v":-0.08},{"t":331,"v":0.1},{"t":332,"v":-0.05},{"t":333,"v":0.08},{"t":334,"v":-0.07},{"t":335,"v":0.1},{"t":336,"v":-0.08},{"t":337,"v":0.05},{"t":338,"v":-0.07},{"t":339,"v":0.08},{"t":340,"v":-0.1},{"t":341,"v":0.07},{"t":342,"v":-0.07},{"t":343,"v":0.08},{"t":344,"v":-0.05},{"t":345,"v":0.1},{"t":346,"v":-0.08},{"t":347,"v":0.07},{"t":348,"v":-0.1},{"t":349,"v":0.08},{"t":350,"v":-0.05},{"t":351,"v":0.07},{"t":352,"v":-0.08},{"t":353,"v":0.1},{"t":354,"v":-0.07},{"t":355,"v":0.05},{"t":356,"v":-0.08},{"t":357,"v":0.08},{"t":358,"v":-0.1},{"t":359,"v":0.07},{"t":360,"v":-0.07},{"t":361,"v":0.1},{"t":362,"v":-0.08},{"t":363,"v":0.05},{"t":364,"v":-0.1},{"t":365,"v":0.08},{"t":366,"v":-0.07},{"t":367,"v":0.07},{"t":368,"v":-0.08},{"t":369,"v":0.1},{"t":370,"v":-0.05},{"t":371,"v":0.08},{"t":372,"v":-0.07},{"t":373,"v":0.08},{"t":374,"v":-0.1},{"t":375,"v":0.07},{"t":376,"v":-0.08},{"t":377,"v":0.05},{"t":378,"v":-0.1},{"t":379,"v":0.08},{"t":380,"v":-0.07},{"t":381,"v":0.07},{"t":382,"v":-0.08},{"t":383,"v":0.1},{"t":384,"v":-0.05},{"t":385,"v":0.08},{"t":386,"v":-0.07},{"t":387,"v":0.1},{"t":388,"v":-0.08},{"t":389,"v":0.05},{"t":390,"v":-0.07},{"t":391,"v":0.08},{"t":392,"v":-0.1},{"t":393,"v":0.07},{"t":394,"v":-0.07},{"t":395,"v":0.08},{"t":396,"v":-0.05},{"t":397,"v":0.1},{"t":398,"v":-0.08},{"t":399,"v":0.07},{"t":400,"v":-0.1},{"t":401,"v":0.08},{"t":402,"v":-0.05},{"t":403,"v":0.07},{"t":404,"v":-0.08},{"t":405,"v":0.1},{"t":406,"v":-0.07},{"t":407,"v":0.05},{"t":408,"v":-0.08},{"t":409,"v":0.08},{"t":410,"v":-0.1},{"t":411,"v":0.07},{"t":412,"v":-0.07},{"t":413,"v":0.1},{"t":414,"v":-0.08},{"t":415,"v":0.05},{"t":416,"v":-0.1},{"t":417,"v":0.08},{"t":418,"v":-0.07},{"t":419,"v":0.07},{"t":420,"v":-0.08}
],
"e": [
{"t":0,"v":-0.05},{"t":1,"v":0.07},{"t":2,"v":-0.04},{"t":3,"v":0.08},{"t":4,"v":-0.05},{"t":5,"v":0.07},{"t":6,"v":-0.07},{"t":7,"v":0.04},{"t":8,"v":-0.08},{"t":9,"v":0.05},{"t":10,"v":-0.05},{"t":11,"v":0.07},{"t":12,"v":-0.08},{"t":13,"v":0.04},{"t":14,"v":-0.07},{"t":15,"v":0.05},{"t":16,"v":-0.08},{"t":17,"v":0.05},{"t":18,"v":-0.04},{"t":19,"v":0.07},{"t":20,"v":-0.07},{"t":21,"v":0.08},{"t":22,"v":-0.05},{"t":23,"v":0.04},{"t":24,"v":-0.07},{"t":25,"v":0.05},{"t":26,"v":-0.08},{"t":27,"v":0.07},{"t":28,"v":-0.04},{"t":29,"v":0.05},{"t":30,"v":-0.07},{"t":31,"v":0.08},{"t":32,"v":-0.05},{"t":33,"v":0.05},{"t":34,"v":-0.07},{"t":35,"v":0.04},{"t":36,"v":-0.08},{"t":37,"v":0.07},{"t":38,"v":-0.05},{"t":39,"v":0.08},{"t":40,"v":-0.04},{"t":41,"v":0.07},{"t":42,"v":-0.05},{"t":43,"v":0.07},{"t":44,"v":-0.08},{"t":45,"v":0.05},{"t":46,"v":-0.07},{"t":47,"v":0.04},{"t":48,"v":-0.08},{"t":49,"v":0.07},{"t":50,"v":-0.05},{"t":51,"v":0.05},{"t":52,"v":-0.07},{"t":53,"v":0.08},{"t":54,"v":-0.04},{"t":55,"v":0.07},{"t":56,"v":-0.05},{"t":57,"v":0.08},{"t":58,"v":-0.07},{"t":59,"v":0.04},{"t":60,"v":-0.05},{"t":61,"v":0.07},{"t":62,"v":-0.08},{"t":63,"v":0.05},{"t":64,"v":-0.05},{"t":65,"v":0.07},{"t":66,"v":-0.04},{"t":67,"v":0.08},{"t":68,"v":-0.07},{"t":69,"v":0.05},{"t":70,"v":-0.08},{"t":71,"v":0.07},{"t":72,"v":-0.04},{"t":73,"v":0.05},{"t":74,"v":-0.07},{"t":75,"v":0.08},{"t":76,"v":-0.05},{"t":77,"v":0.04},{"t":78,"v":-0.07},{"t":79,"v":0.07},{"t":80,"v":-0.08},{"t":81,"v":0.05},{"t":82,"v":-0.05},{"t":83,"v":0.08},{"t":84,"v":-0.07},{"t":85,"v":0.04},{"t":86,"v":-0.08},{"t":87,"v":0.07},{"t":88,"v":-0.05},{"t":89,"v":0.05},{"t":90,"v":-0.07},{"t":91,"v":0.08},{"t":92,"v":-0.04},{"t":93,"v":0.07},{"t":94,"v":-0.05},{"t":95,"v":0.07},{"t":96,"v":-0.08},{"t":97,"v":0.05},{"t":98,"v":-0.07},{"t":99,"v":0.04},{"t":100,"v":-0.08},{"t":101,"v":0.07},{"t":102,"v":-0.05},{"t":103,"v":0.05},{"t":104,"v":-0.07},{"t":105,"v":0.08},{"t":106,"v":-0.04},{"t":107,"v":0.07},{"t":108,"v":-0.05},{"t":109,"v":0.08},{"t":110,"v":-0.07},{"t":111,"v":0.04},{"t":112,"v":-0.05},{"t":113,"v":0.07},{"t":114,"v":-0.08},{"t":115,"v":0.05},{"t":116,"v":-0.05},{"t":117,"v":0.07},{"t":118,"v":-0.04},{"t":119,"v":0.08},{"t":120,"v":-0.07},{"t":121,"v":0.05},{"t":122,"v":-0.08},{"t":123,"v":0.07},{"t":124,"v":-0.04},{"t":125,"v":0.05},{"t":126,"v":-0.07},{"t":127,"v":0.08},{"t":128,"v":-0.05},{"t":129,"v":0.04},{"t":130,"v":-0.07},{"t":131,"v":0.07},{"t":132,"v":-0.08},{"t":133,"v":0.05},{"t":134,"v":-0.05},{"t":135,"v":0.08},{"t":136,"v":-0.07},{"t":137,"v":0.04},{"t":138,"v":-0.08},{"t":139,"v":0.07},{"t":140,"v":-0.05},{"t":141,"v":0.05},{"t":142,"v":-0.07},{"t":143,"v":0.08},{"t":144,"v":-0.04},{"t":145,"v":0.07},{"t":146,"v":-0.05},{"t":147,"v":0.07},
{"t":148,"v":-0.07},{"t":148.5,"v":0.1},{"t":149,"v":-0.35},{"t":149.5,"v":0.55},{"t":150,"v":-0.6},{"t":150.5,"v":0.66},{"t":151,"v":-0.5},{"t":151.5,"v":0.6},{"t":152,"v":-0.64},{"t":152.5,"v":0.45},{"t":153,"v":-0.55},{"t":153.5,"v":0.62},{"t":154,"v":-0.5},{"t":154.5,"v":0.7},{"t":155,"v":-0.76},{"t":155.5,"v":0.78},{"t":156,"v":-0.6},{"t":156.5,"v":0.55},{"t":157,"v":-0.7},{"t":157.5,"v":0.65},{"t":158,"v":-0.58},{"t":158.5,"v":0.72},{"t":159,"v":-0.66},{"t":159.5,"v":0.6},{"t":160,"v":-0.75},{"t":160.5,"v":0.85},{"t":161,"v":-0.8},{"t":161.5,"v":1.0},{"t":162,"v":-0.95},{"t":162.5,"v":1.2},{"t":163,"v":-1.1},{"t":163.5,"v":1.5},{"t":164,"v":-1.52},{"t":164.5,"v":2.1},{"t":165,"v":-2.35},{"t":165.5,"v":1.8},{"t":166,"v":-1.6},{"t":166.5,"v":1.6},{"t":167,"v":-1.3},{"t":167.5,"v":1.65},{"t":168,"v":-2.3},{"t":168.5,"v":1.4},{"t":169,"v":-1.2},{"t":169.5,"v":1.1},{"t":170,"v":-0.95},{"t":170.5,"v":1.0},{"t":171,"v":-0.9},{"t":171.5,"v":0.85},{"t":172,"v":-0.8},{"t":172.5,"v":0.9},{"t":173,"v":-0.85},{"t":173.5,"v":0.75},{"t":174,"v":-0.7},{"t":174.5,"v":0.8},{"t":175,"v":-0.6},{"t":175.5,"v":0.65},{"t":176,"v":-0.55},{"t":176.5,"v":0.6},{"t":177,"v":-0.5},{"t":177.5,"v":0.5},{"t":178,"v":-0.45},{"t":178.5,"v":0.48},{"t":179,"v":-0.42},{"t":179.5,"v":0.4},{"t":180,"v":-0.38},
{"t":181,"v":0.42},{"t":182,"v":-0.45},{"t":183,"v":0.4},{"t":184,"v":-0.35},{"t":185,"v":0.32},{"t":186,"v":-0.3},{"t":187,"v":0.34},{"t":188,"v":-0.28},{"t":189,"v":0.3},{"t":190,"v":-0.26},{"t":191,"v":0.25},{"t":192,"v":-0.24},{"t":193,"v":0.22},{"t":194,"v":-0.23},{"t":195,"v":0.2},{"t":196,"v":-0.2},{"t":197,"v":0.18},{"t":198,"v":-0.17},{"t":199,"v":0.16},{"t":200,"v":-0.15},{"t":201,"v":0.14},{"t":202,"v":-0.15},{"t":203,"v":0.13},{"t":204,"v":-0.12},{"t":205,"v":0.13},{"t":206,"v":-0.11},{"t":207,"v":0.12},{"t":208,"v":-0.1},{"t":209,"v":0.11},{"t":210,"v":-0.1},{"t":211,"v":0.09},{"t":212,"v":-0.1},{"t":213,"v":0.09},{"t":214,"v":-0.08},{"t":215,"v":0.09},{"t":216,"v":-0.08},{"t":217,"v":0.07},{"t":218,"v":-0.08},{"t":219,"v":0.07},{"t":220,"v":-0.08},{"t":221,"v":0.07},{"t":222,"v":-0.06},{"t":223,"v":0.08},{"t":224,"v":-0.07},{"t":225,"v":0.06},{"t":226,"v":-0.07},{"t":227,"v":0.06},{"t":228,"v":-0.07},{"t":229,"v":0.06},{"t":230,"v":-0.05},{"t":231,"v":0.07},{"t":232,"v":-0.06},{"t":233,"v":0.05},{"t":234,"v":-0.06},{"t":235,"v":0.07},{"t":236,"v":-0.05},{"t":237,"v":0.06},{"t":238,"v":-0.06},{"t":239,"v":0.05},{"t":240,"v":-0.06},{"t":241,"v":0.06},{"t":242,"v":-0.05},{"t":243,"v":0.06},{"t":244,"v":-0.05},{"t":245,"v":0.05},{"t":246,"v":-0.06},{"t":247,"v":0.05},{"t":248,"v":-0.05},{"t":249,"v":0.06},{"t":250,"v":-0.05},{"t":251,"v":0.05},{"t":252,"v":-0.06},{"t":253,"v":0.05},{"t":254,"v":-0.05},{"t":255,"v":0.06},{"t":256,"v":-0.05},{"t":257,"v":0.05},{"t":258,"v":-0.06},{"t":259,"v":0.05},{"t":260,"v":-0.05},{"t":261,"v":0.06},{"t":262,"v":-0.05},
{"t":263,"v":0.06},{"t":263.5,"v":-0.1},{"t":264,"v":0.25},{"t":264.5,"v":-0.3},{"t":265,"v":0.4},{"t":265.5,"v":-0.35},{"t":266,"v":0.45},{"t":266.5,"v":-0.3},{"t":267,"v":0.35},{"t":267.5,"v":-0.38},{"t":268,"v":0.3},{"t":268.5,"v":-0.4},{"t":269,"v":0.59},{"t":269.5,"v":-0.62},{"t":270,"v":0.35},{"t":270.5,"v":-0.3},{"t":271,"v":0.25},{"t":271.5,"v":-0.22},{"t":272,"v":0.2},{"t":272.5,"v":-0.2},{"t":273,"v":0.18},{"t":273.5,"v":-0.16},{"t":274,"v":0.15},{"t":274.5,"v":-0.14},{"t":275,"v":0.13},{"t":275.5,"v":-0.12},{"t":276,"v":0.11},{"t":276.5,"v":-0.1},{"t":277,"v":0.1},{"t":277.5,"v":-0.09},{"t":278,"v":0.09},{"t":278.5,"v":-0.08},{"t":279,"v":0.08},{"t":279.5,"v":-0.07},{"t":280,"v":0.07},
{"t":281,"v":-0.08},{"t":282,"v":0.05},{"t":283,"v":-0.07},{"t":284,"v":0.07},{"t":285,"v":-0.04},{"t":286,"v":0.08},{"t":287,"v":-0.05},{"t":288,"v":0.05},{"t":289,"v":-0.07},{"t":290,"v":0.08},{"t":291,"v":-0.04},{"t":292,"v":0.07},{"t":293,"v":-0.05},{"t":294,"v":0.08},{"t":295,"v":-0.05},{"t":296,"v":0.04},{"t":297,"v":-0.07},{"t":298,"v":0.07},{"t":299,"v":-0.08},{"t":300,"v":0.05},{"t":301,"v":-0.04},{"t":302,"v":0.07},{"t":303,"v":-0.05},{"t":304,"v":0.08},{"t":305,"v":-0.07},{"t":306,"v":0.04},{"t":307,"v":-0.05},{"t":308,"v":0.07},{"t":309,"v":-0.08},{"t":310,"v":0.05},{"t":311,"v":-0.05},{"t":312,"v":0.07},{"t":313,"v":-0.04},{"t":314,"v":0.08},{"t":315,"v":-0.07},{"t":316,"v":0.05},{"t":317,"v":-0.08},{"t":318,"v":0.04},{"t":319,"v":-0.07},{"t":320,"v":0.05},{"t":321,"v":-0.07},{"t":322,"v":0.08},{"t":323,"v":-0.05},{"t":324,"v":0.07},{"t":325,"v":-0.04},{"t":326,"v":0.08},{"t":327,"v":-0.07},{"t":328,"v":0.05},{"t":329,"v":-0.05},{"t":330,"v":0.07},{"t":331,"v":-0.08},{"t":332,"v":0.04},{"t":333,"v":-0.07},{"t":334,"v":0.05},{"t":335,"v":-0.08},{"t":336,"v":0.07},{"t":337,"v":-0.04},{"t":338,"v":0.05},{"t":339,"v":-0.07},{"t":340,"v":0.08},{"t":341,"v":-0.05},{"t":342,"v":0.05},{"t":343,"v":-0.07},{"t":344,"v":0.04},{"t":345,"v":-0.08},{"t":346,"v":0.07},{"t":347,"v":-0.05},{"t":348,"v":0.08},{"t":349,"v":-0.07},{"t":350,"v":0.04},{"t":351,"v":-0.05},{"t":352,"v":0.07},{"t":353,"v":-0.08},{"t":354,"v":0.05},{"t":355,"v":-0.04},{"t":356,"v":0.07},{"t":357,"v":-0.07},{"t":358,"v":0.08},{"t":359,"v":-0.05},{"t":360,"v":0.05},{"t":361,"v":-0.08},{"t":362,"v":0.07},{"t":363,"v":-0.04},{"t":364,"v":0.08},{"t":365,"v":-0.07},{"t":366,"v":0.05},{"t":367,"v":-0.05},{"t":368,"v":0.07},{"t":369,"v":-0.08},{"t":370,"v":0.04},{"t":371,"v":-0.07},{"t":372,"v":0.05},{"t":373,"v":-0.07},{"t":374,"v":0.08},{"t":375,"v":-0.05},{"t":376,"v":0.07},{"t":377,"v":-0.04},{"t":378,"v":0.08},{"t":379,"v":-0.07},{"t":380,"v":0.05},{"t":381,"v":-0.05},{"t":382,"v":0.07},{"t":383,"v":-0.08},{"t":384,"v":0.04},{"t":385,"v":-0.07},{"t":386,"v":0.05},{"t":387,"v":-0.08},{"t":388,"v":0.07},{"t":389,"v":-0.04},{"t":390,"v":0.05},{"t":391,"v":-0.07},{"t":392,"v":0.08},{"t":393,"v":-0.05},{"t":394,"v":0.05},{"t":395,"v":-0.07},{"t":396,"v":0.04},{"t":397,"v":-0.08},{"t":398,"v":0.07},{"t":399,"v":-0.05},{"t":400,"v":0.08},{"t":401,"v":-0.07},{"t":402,"v":0.04},{"t":403,"v":-0.05},{"t":404,"v":0.07},{"t":405,"v":-0.08},{"t":406,"v":0.05},{"t":407,"v":-0.04},{"t":408,"v":0.07},{"t":409,"v":-0.07},{"t":410,"v":0.08},{"t":411,"v":-0.05},{"t":412,"v":0.05},{"t":413,"v":-0.08},{"t":414,"v":0.07},{"t":415,"v":-0.04},{"t":416,"v":0.08},{"t":417,"v":-0.07},{"t":418,"v":0.05},{"t":419,"v":-0.05},{"t":420,"v":0.07}
]
}
}
